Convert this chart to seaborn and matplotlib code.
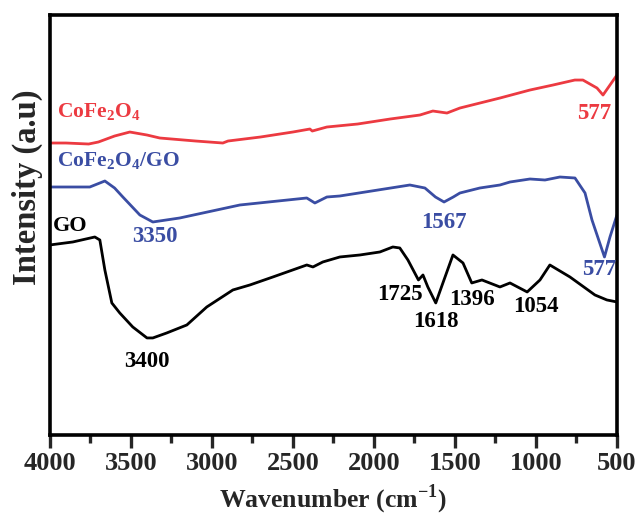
import numpy as np
import pandas as pd
import matplotlib
matplotlib.use("Agg")
import matplotlib.pyplot as plt
import seaborn as sns

# Spectra (wavenumber in cm-1, intensity in arbitrary units)
cofe_wn = [4000, 3900, 3760, 3700, 3600, 3506, 3400, 3321, 3100, 2932, 2900, 2700,
           2500, 2395, 2380, 2290, 2100, 1900, 1716, 1636, 1549, 1469, 1222, 1037,
           895, 760, 710, 623, 586, 500]
cofe_int = [292, 292, 291, 293, 299, 303, 300, 297, 294, 292, 294, 298,
            303, 306, 304, 308, 311, 316, 320, 324, 322, 327, 337, 345,
            350, 355, 355, 347, 340, 360]

cofego_wn = [4000, 3753, 3660, 3600, 3549, 3444, 3364, 3198, 2827, 2414, 2364, 2290,
             2210, 1778, 1685, 1620, 1567, 1510, 1469, 1346, 1222, 1160, 1037, 944,
             852, 759, 697, 654, 577, 543, 500]
cofego_int = [248, 248, 254, 247, 238, 220, 213, 217, 230, 237, 232, 238,
              239, 250, 247, 238, 233, 238, 242, 247, 250, 253, 256, 255,
              258, 257, 242, 215, 178, 198, 220]

go_wn = [4000, 3858, 3722, 3691, 3660, 3617, 3568, 3488, 3400, 3364, 3278, 3154,
         3031, 2870, 2765, 2623, 2414, 2376, 2315, 2210, 2086, 1963, 1883, 1840,
         1790, 1725, 1697, 1667, 1618, 1574, 1512, 1450, 1396, 1333, 1222, 1160,
         1054, 975, 914, 790, 636, 562, 500]
go_int = [190, 193, 198, 195, 165, 132, 122, 108, 97, 97, 102, 110,
          128, 145, 150, 158, 170, 168, 173, 178, 180, 183, 188, 187,
          175, 155, 160, 148, 132, 152, 180, 172, 152, 155, 148, 152,
          143, 155, 170, 158, 140, 135, 133]

names = ['CoFe$_\\mathregular{2}$O$_\\mathregular{4}$',
         'CoFe$_\\mathregular{2}$O$_\\mathregular{4}$/GO',
         'GO']
colors = ['#EC3A41', '#3A4DA3', '#000000']

# peak labels: (text, wavenumber, intensity, series index)
peak_text = ['577', '3350', '1567', '577', '3400', '1725', '1618', '1396', '1054']
peak_wn = [640, 3350, 1567, 610, 3400, 1840, 1618, 1396, 1000]
peak_int = [322, 198, 212, 165, 73, 140, 113, 135, 128]
peak_series = [0, 1, 1, 1, 2, 2, 2, 2, 2]

frames = []
for name, wn, inten in zip(names, [cofe_wn, cofego_wn, go_wn],
                           [cofe_int, cofego_int, go_int]):
    frames.append(pd.DataFrame({'wn': wn, 'I': inten, 'sample': name}))
df = pd.concat(frames, ignore_index=True)

sns.set_theme(style='ticks')
plt.rcParams['font.family'] = ['Liberation Serif', 'DejaVu Serif']
plt.rcParams['font.weight'] = 'bold'

fig = plt.figure(figsize=(6.38, 5.19), dpi=100)
ax = fig.add_axes([0.078, 0.162, 0.889, 0.809])

sns.lineplot(data=df, x='wn', y='I', hue='sample', palette=colors,
             hue_order=names, linewidth=2.0, legend=False, ax=ax, sort=True)

ax.set_xlim(4000, 500)
ax.set_ylim(0, 420)
ax.set_xticks(np.arange(4000, 499, -500))
ax.set_xticks(np.arange(3750, 500, -500), minor=True)
ax.set_yticks([])
ax.tick_params(axis='x', which='major', direction='out', length=9, width=2.4,
               labelsize=19, pad=3)
ax.tick_params(axis='x', which='minor', direction='out', length=6, width=2.4)
for lab in ax.get_xticklabels():
    lab.set_fontweight('bold')
for sp in ax.spines.values():
    sp.set_linewidth(2.6)
    sp.set_color('black')

ax.set_xlabel('Wavenumber (cm$^\\mathregular{-1}$)', fontsize=18.5,
              fontweight='bold', labelpad=6)
ax.set_ylabel('Intensity (a.u)', fontsize=23.5, fontweight='bold')
ax.yaxis.set_label_coords(-0.012, 0.59)

# sample names
ax.text(3957, 323, names[0], color=colors[0], fontsize=15.5, fontweight='bold',
        va='center', ha='left')
ax.text(3957, 274, names[1], color=colors[1], fontsize=15.5, fontweight='bold',
        va='center', ha='left')
ax.text(3980, 209, names[2], color=colors[2], fontsize=16, fontweight='bold',
        va='center', ha='left')

for t, w, v, s in zip(peak_text, peak_wn, peak_int, peak_series):
    ax.text(w, v, t, color=colors[s], fontsize=16.5, fontweight='bold',
            ha='center', va='center')

fig.savefig('out.png', dpi=100)
